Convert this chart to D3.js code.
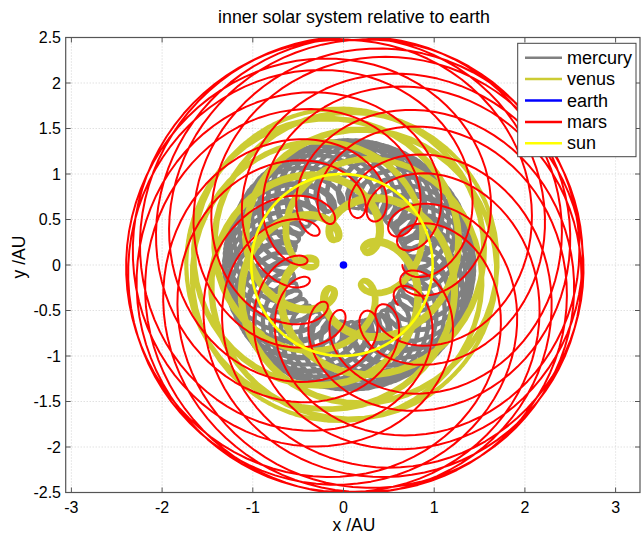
<!DOCTYPE html>
<html>
<head>
<meta charset="utf-8">
<script src="https://cdn.jsdelivr.net/npm/d3@7"></script>
<style>
  html, body { margin: 0; padding: 0; background: #fff; }
  svg { display: block; font-family: "Liberation Sans", Arial, sans-serif; }
</style>
</head>
<body>
<svg id="chart" width="641" height="535"></svg>
<script>
// ---- data -------------------------------------------------------------
const legendNames   = ["mercury", "venus", "earth", "mars", "sun"];
const bodyNames     = ["mercury", "venus", "earth", "mars"];
const semiMajorAU   = [0.3871, 0.7233, 1.0000, 1.5237];
const eccentricity  = [0.2056, 0.0068, 0.0167, 0.0934];
const periodYears   = [0.2408, 0.6152, 1.0000, 1.8808];
const perihelionDeg = [180, 180, 180, 180];
const startMeanAnomalyDeg = [180, 180, 180, 180];
const spanYears = 30;
const stepDays  = 5;

const xTicks = [-3, -2, -1, 0, 1, 2, 3];
const xTickLabels = ["-3", "-2", "-1", "0", "1", "2", "3"];
const yTicks = [-2.5, -2, -1.5, -1, -0.5, 0, 0.5, 1, 1.5, 2, 2.5];
const yTickLabels = ["-2.5", "-2", "-1.5", "-1", "-0.5", "0", "0.5", "1", "1.5", "2", "2.5"];

const titleText = "inner solar system relative to earth";
const xLabelText = "x /AU";
const yLabelText = "y /AU";

const colors = { mercury: "#808080", venus: "#cccc33", earth: "#0000ff", mars: "#ff0000", sun: "#ffff00" };

// ---- orbit computation (Kepler) --------------------------------------
function heliocentric(i, t) {
  const a = semiMajorAU[i], e = eccentricity[i];
  const M = startMeanAnomalyDeg[i] * Math.PI / 180 + 2 * Math.PI * t / periodYears[i];
  let E = M;
  for (let k = 0; k < 12; k++) E = E - (E - e * Math.sin(E) - M) / (1 - e * Math.cos(E));
  const xp = a * (Math.cos(E) - e);
  const yp = a * Math.sqrt(1 - e * e) * Math.sin(E);
  const w = perihelionDeg[i] * Math.PI / 180;
  return [xp * Math.cos(w) - yp * Math.sin(w), xp * Math.sin(w) + yp * Math.cos(w)];
}
const nSteps = Math.round(spanYears * 365.25 / stepDays);
const times = d3.range(nSteps + 1).map(k => k * stepDays / 365.25);
const earthIdx = bodyNames.indexOf("earth");
const earthPos = times.map(t => heliocentric(earthIdx, t));
const rel = {};
bodyNames.forEach((name, i) => {
  rel[name] = times.map((t, k) => {
    const p = heliocentric(i, t);
    return [p[0] - earthPos[k][0], p[1] - earthPos[k][1]];
  });
});
rel.sun = earthPos.map(p => [-p[0], -p[1]]);

// ---- layout -----------------------------------------------------------
const svg = d3.select("#chart");
const L = 65.7, R = 640, T = 37.5, B = 492.5;
const pxPerUnit = 90.7;
const x0px = 343.5;
const x = d3.scaleLinear().domain([(L - x0px) / pxPerUnit, (R - x0px) / pxPerUnit]).range([L, R]);
const y = d3.scaleLinear().domain([-2.5, 2.5]).range([B, T]);

svg.append("defs").append("clipPath").attr("id", "clip")
  .append("rect").attr("x", L).attr("y", T).attr("width", R - L).attr("height", B - T);

// grid
const grid = svg.append("g").attr("stroke", "#c8c8c8").attr("stroke-width", 0.8).attr("stroke-dasharray", "1,2");
grid.selectAll("line.gx").data(xTicks).join("line")
  .attr("x1", d => x(d)).attr("x2", d => x(d)).attr("y1", T).attr("y2", B);
grid.selectAll("line.gy").data(yTicks).join("line")
  .attr("y1", d => y(d)).attr("y2", d => y(d)).attr("x1", L).attr("x2", R);

// curves
const line = d3.line().x(d => x(d[0])).y(d => y(d[1]));
const plot = svg.append("g").attr("clip-path", "url(#clip)").attr("fill", "none")
  .attr("stroke-linejoin", "round").attr("stroke-linecap", "round");
const widths = { mercury: 3, venus: 4, mars: 2, sun: 2.5 };
["mercury", "venus"].forEach(n => {
  plot.append("path").datum(rel[n]).attr("d", line).attr("stroke", colors[n]).attr("stroke-width", widths[n]);
});
plot.append("circle").datum(rel.earth[0])
  .attr("cx", d => x(d[0])).attr("cy", d => y(d[1])).attr("r", 3.8).attr("fill", colors.earth);
["mars", "sun"].forEach(n => {
  plot.append("path").datum(rel[n]).attr("d", line).attr("stroke", colors[n]).attr("stroke-width", widths[n]);
});

// axes box + ticks
const axisColor = "#555";
svg.append("rect").attr("x", L).attr("y", T).attr("width", R - L).attr("height", B - T)
  .attr("fill", "none").attr("stroke", axisColor).attr("stroke-width", 1.2);
const tl = 5;
const ticks = svg.append("g").attr("stroke", axisColor).attr("stroke-width", 1);
xTicks.forEach(v => {
  ticks.append("line").attr("x1", x(v)).attr("x2", x(v)).attr("y1", B).attr("y2", B - tl);
  ticks.append("line").attr("x1", x(v)).attr("x2", x(v)).attr("y1", T).attr("y2", T + tl);
});
yTicks.forEach(v => {
  ticks.append("line").attr("y1", y(v)).attr("y2", y(v)).attr("x1", L).attr("x2", L + tl);
  ticks.append("line").attr("y1", y(v)).attr("y2", y(v)).attr("x1", R).attr("x2", R - tl);
});

// tick labels
svg.append("g").selectAll("text").data(xTicks).join("text")
  .attr("x", d => x(d)).attr("y", 513).attr("text-anchor", "middle")
  .attr("font-size", 16).attr("fill", "#000").text((d, i) => xTickLabels[i]);
svg.append("g").selectAll("text").data(yTicks).join("text")
  .attr("x", 61).attr("y", d => y(d) + 5.7).attr("text-anchor", "end")
  .attr("font-size", 16).attr("fill", "#000").text((d, i) => yTickLabels[i]);

// labels
svg.append("text").attr("x", 354).attr("y", 23).attr("text-anchor", "middle")
  .attr("font-size", 17.8).text(titleText);
svg.append("text").attr("x", 354).attr("y", 531).attr("text-anchor", "middle")
  .attr("font-size", 17.5).text(xLabelText);
svg.append("text").attr("transform", "translate(25,257) rotate(-90)").attr("text-anchor", "middle")
  .attr("font-size", 17.5).text(yLabelText);

// legend
const lg = svg.append("g");
lg.append("rect").attr("x", 517.7).attr("y", 43.3).attr("width", 118.3).attr("height", 113.4)
  .attr("fill", "#fff").attr("stroke", "#444").attr("stroke-width", 1);
const legendRowY = d3.scaleLinear().domain([0, 4]).range([57.7, 143.3]);
legendNames.forEach((n, i) => {
  const yy = legendRowY(i);
  lg.append("line").attr("x1", 525).attr("x2", 562).attr("y1", yy).attr("y2", yy)
    .attr("stroke", colors[n]).attr("stroke-width", 2.5);
  lg.append("text").attr("x", 567).attr("y", yy + 6).attr("font-size", 18).text(n);
});
</script>
</body>
</html>
